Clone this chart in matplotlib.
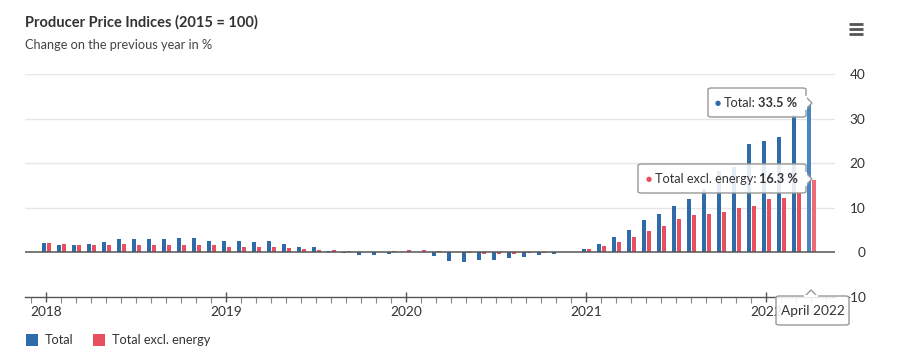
import matplotlib
matplotlib.use("Agg")
import matplotlib.pyplot as plt
from matplotlib.patches import FancyBboxPatch, Polygon, Rectangle
from matplotlib.lines import Line2D
import numpy as np

# ---------------- data ----------------
years = [2018, 2019, 2020, 2021, 2022]
total = [2.0, 1.6, 1.6, 1.8, 2.4, 2.9, 2.9, 3.1, 3.1, 3.3, 3.3, 2.6,
         2.5, 2.5, 2.3, 2.5, 1.9, 1.2, 1.1, 0.3, -0.1, -0.6, -0.6, -0.3,
         0.1, 0.1, -0.8, -1.9, -2.1, -1.6, -1.6, -1.2, -1.0, -0.6, -0.4, 0.1,
         0.8, 1.8, 3.5, 5.0, 7.2, 8.5, 10.3, 11.9, 14.2, 18.2, 19.2, 24.2,
         24.9, 25.9, 30.9, 33.5]
excl_energy = [2.2, 1.8, 1.6, 1.6, 1.6, 1.8, 1.6, 1.6, 1.6, 1.6, 1.6, 1.6,
               1.3, 1.2, 1.2, 1.1, 1.0, 0.8, 0.5, 0.5, 0.3, 0.1, 0.1, 0.4,
               0.5, 0.5, 0.3, 0.0, -0.2, -0.4, -0.4, -0.3, -0.2, -0.1, 0.0, 0.1,
               0.8, 1.4, 2.3, 3.5, 4.8, 5.9, 7.4, 8.3, 8.5, 9.1, 10.0, 10.4,
               11.9, 12.3, 13.6, 16.3]
series_names = ["Total", "Total excl. energy"]
y_ticks = [-10, 0, 10, 20, 30, 40]
title = "Producer Price Indices (2015 = 100)"
subtitle = "Change on the previous year in %"
hover_label = "April 2022"

BLUE = "#2f6ba8"
RED = "#e8505f"
BLUE_H = "#4a86c4"
RED_H = "#f06b78"
TXT = "#333333"
GREY = "#666666"

FONT = "Lato"
plt.rcParams["font.family"] = [FONT, "DejaVu Sans"]

W, H = 900, 361
fig = plt.figure(figsize=(W / 100, H / 100), dpi=100)
fig.patch.set_facecolor("white")


def fx(x):
    return x / W


def fy(y):
    return 1 - y / H


# axes: x from 25 to 835 px, y: 40 at 74 px, -10 at 297 px
ax = fig.add_axes([fx(25), fy(297), (835 - 25) / W, (297 - 74) / H])
ax.set_facecolor("none")
n = len(total)
x = np.arange(n)
ax.set_xlim(-1.4, 52.6)
ax.set_ylim(-10, 40)

bw = 0.26
bc = [BLUE] * (n - 1) + [BLUE_H]
rc = [RED] * (n - 1) + [RED_H]
ax.bar(x - bw / 2 + 0.02, total, width=bw, color=bc, zorder=3, linewidth=0)
ax.bar(x + bw / 2 + 0.06, excl_energy, width=bw, color=rc, zorder=3, linewidth=0)

# grid
for v in y_ticks[2:]:
    ax.axhline(v, color="#e6e6e6", lw=1, zorder=1)
ax.axhline(0, color="#555555", lw=1.1, zorder=4)

for s in ["top", "left", "right"]:
    ax.spines[s].set_visible(False)
ax.spines["bottom"].set_color("#555555")
ax.spines["bottom"].set_linewidth(1)

# x ticks
year_pos = [12 * i for i in range(len(years))]
ax.set_xticks(year_pos)
ax.set_xticklabels([str(y) for y in years], fontsize=9.8, color=TXT)
ax.set_xticks(np.arange(-1, 53), minor=True)
ax.tick_params(axis="x", which="major", length=7, width=1, color="#555555", pad=3, direction="inout")
ax.tick_params(axis="x", which="minor", length=4, width=0.8, color="#888888", direction="out")

# y ticks on right
ax.yaxis.tick_right()
ax.set_yticks(y_ticks)
ax.set_yticklabels([str(v) for v in y_ticks], fontsize=9.8, color=TXT)
ax.tick_params(axis="y", length=0, pad=22)
for lab in ax.get_yticklabels():
    lab.set_horizontalalignment("right")

# titles
fig.text(fx(25), fy(22), title, fontsize=10.5, fontweight="bold", color=TXT, va="center", ha="left")
fig.text(fx(25), fy(45), subtitle, fontsize=9.2, color="#444444", va="center", ha="left")

# hamburger icon
for yy in [24, 29, 34]:
    fig.add_artist(Line2D([fx(849), fx(863)], [fy(yy), fy(yy)], color="#555555", lw=2,
                          solid_capstyle="butt"))

# legend
fig.add_artist(Rectangle((fx(26), fy(346)), 12 / W, 12 / H, color=BLUE, lw=0))
fig.text(fx(45), fy(340), series_names[0], fontsize=9.2, color=TXT, va="center", ha="left")
fig.add_artist(Rectangle((fx(93), fy(346)), 12 / W, 12 / H, color=RED, lw=0))
fig.text(fx(112), fy(340), series_names[1], fontsize=9.2, color=TXT, va="center", ha="left")

fig.canvas.draw()
renderer = fig.canvas.get_renderer()


def tooltip(x0, y0, x1, y1, pointer):
    box = FancyBboxPatch((fx(x0), fy(y1)), (x1 - x0) / W, (y1 - y0) / H,
                         boxstyle="round,pad=0,rounding_size=0.004",
                         facecolor=(1, 1, 1, 0.88), edgecolor="#999999", lw=1,
                         transform=fig.transFigure, zorder=10)
    fig.add_artist(box)
    if pointer is not None:
        pts = [(fx(px_), fy(py_)) for px_, py_ in pointer]
        fig.add_artist(Polygon(pts, closed=False, facecolor=(1, 1, 1, 0.95), edgecolor="#999999",
                               lw=1, transform=fig.transFigure, zorder=11))
        fig.add_artist(Line2D([pts[0][0], pts[-1][0]], [pts[0][1], pts[-1][1]],
                              color="white", lw=1.5, zorder=12))


def rich(xs, yc, dot_color, label, value):
    fig.text(fx(xs), fy(yc), "\u25CF", fontsize=5, color=dot_color, va="center", ha="left", zorder=13,
             family="DejaVu Sans")
    t1 = fig.text(fx(xs + 9), fy(yc), label, fontsize=9.2, color=TXT, va="center", ha="left", zorder=13)
    bb = t1.get_window_extent(renderer)
    fig.text((bb.x1 + 2.5) / W, fy(yc), value, fontsize=9.2, color=TXT, fontweight="bold",
             va="center", ha="left", zorder=13)


# Total tooltip
tooltip(708, 88, 806, 117, [(806, 97), (812, 103), (806, 109)])
rich(715, 103, BLUE, series_names[0] + ":", f"{total[-1]:.1f} %")
# Excl energy tooltip
tooltip(638, 164, 806, 193, [(806, 173), (812, 179), (806, 185)])
rich(646, 179, RED, series_names[1] + ":", f"{excl_energy[-1]:.1f} %")
# date tooltip
tooltip(776, 296, 849, 325, [(805, 296), (811, 290), (817, 296)])
fig.text(fx(812.5), fy(311), hover_label, fontsize=9.8, color=TXT, va="center", ha="center", zorder=13)

fig.savefig("out.png", dpi=100)
